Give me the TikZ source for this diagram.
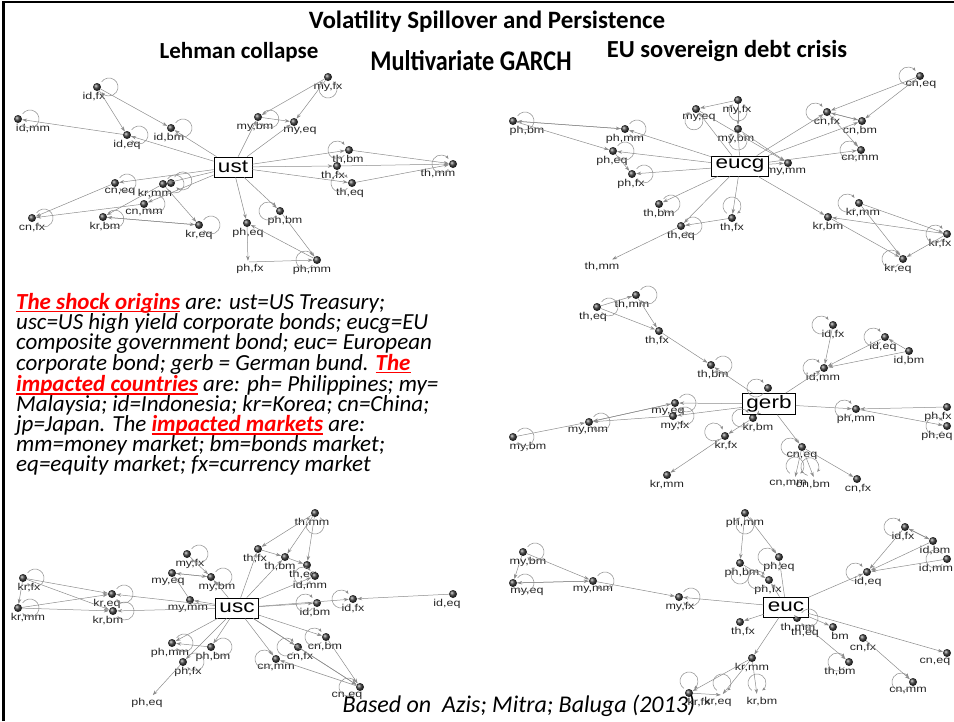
\documentclass[tikz,border=0pt]{standalone}
\usepackage{fontspec}
\setmainfont{Carlito}
\newfontfamily\netfont[FakeStretch=1.25]{Liberation Sans}
\newfontfamily\garchfont[FakeStretch=0.85]{Carlito}
\usetikzlibrary{arrows.meta}

% red, bold, underlined key words of the legend
\newcommand\redul[1]{\textcolor{red}{\bfseries\setbox0\hbox{#1}\rlap{\rule[-3pt]{\wd0}{1.6pt}}\box0}}
% self loop of a market node: node, direction
\newcommand\lp[2]{\draw[loopline] (#1) ++(#2:12) ++(#2+215:9) arc[start angle=#2+215, delta angle=290, radius=9];}

\tikzset{
  ball/.style={circle, inner sep=0pt, minimum size=8pt, shading=ball, ball color=black!75},
  nob/.style={circle, inner sep=0pt, minimum size=2pt},
  lbl/.style={font=\netfont\fontsize{10}{10}\selectfont, inner sep=0.5pt, text=black!85},
  src/.style={draw, thick, fill=white, font=\netfont\fontsize{18}{18}\selectfont, inner xsep=4pt, inner ysep=2pt, minimum height=20pt},
  link/.style={draw=black!45, line width=0.5pt, -{Stealth[length=5pt,width=3.5pt]}},
  loopline/.style={draw=black!45, line width=0.5pt, -{Stealth[length=3.5pt,width=3pt]}},
}

\begin{document}
\begin{tikzpicture}[x=1pt, y=-1pt]
\useasboundingbox (0,0) rectangle (954,721);
\draw[line width=2.5pt] (3.5,721) -- (3.5,2) -- (954,2);

\node[font=\bfseries\fontsize{25}{25}\selectfont] (title) at (487,22) {Volatility Spillover and Persistence};
\node[font=\bfseries\fontsize{23}{23}\selectfont] (lehman) at (239,52) {Lehman collapse};
\node[font=\garchfont\bfseries\fontsize{28.5}{28.5}\selectfont] (garch) at (471,61) {Multivariate GARCH};
\node[font=\bfseries\fontsize{24.5}{24.5}\selectfont] (eucrisis) at (727,51) {EU sovereign debt crisis};

% ---- ust (Lehman collapse)
\foreach \n/\x/\y/\t/\d in {idfx/97/87/{id,fx}/-3, idmm/18/119/{id,mm}/15, ideq/127/135/{id,eq}/0,
  idbm/171/128/{id,bm}/-2, cneq/115/183/{cn,eq}/5, krmm/163/184/{kr,mm}/-8, cnmm/144/204/{cn,mm}/0,
  cnfx/32/218/{cn,fx}/0, krbm/103/217/{kr,bm}/2, kreq/199/225/{kr,eq}/0, myfx/328/77/{my,fx}/0,
  mybm/258/117/{my,bm}/-3, myeq/294/122/{my,eq}/6, thbm/349/150/{th,bm}/-1, thfx/337/166/{th,fx}/-4,
  theq/352/183/{th,eq}/-2, thmm/453/164/{th,mm}/-15, phbm/280/211/{ph,bm}/5, pheq/247/223/{ph,eq}/1,
  phmm/317/260/{ph,mm}/-5}
  \node[ball, label={[lbl, xshift=\d]below:\t}] (a\n) at (\x,\y) {};
\node[ball] (akrx) at (171,183) {};
\node[nob, label={[lbl, xshift=2]below:ph,fx}] (aphfx) at (248,262) {};
\node[src] (aust) at (233,167) {ust};
\foreach \n/\a in {idfx/0, idmm/0, ideq/0, idbm/0, cneq/0, krmm/0, krx/-10, cnmm/0, cnfx/0, krbm/10,
  kreq/0, myfx/90, mybm/10, thbm/180, theq/180, thmm/180, phbm/180, phmm/180}
  {\lp{a\n}{\a}}
\foreach \s/\e in {ust/ideq, ust/idbm, ideq/idmm, idfx/ideq, idfx/idbm, ust/cneq, ust/krmm, ust/cnmm,
  cneq/cnfx, cnmm/cnfx, krmm/krbm, krmm/kreq, krbm/kreq, kreq/krbm, ust/mybm, ust/myeq, myfx/mybm,
  myfx/myeq, mybm/myeq, ust/thbm, ust/thfx, ust/theq, thbm/thmm, thfx/thmm, theq/thmm, ust/pheq,
  ust/phbm, phbm/phmm, phmm/pheq, pheq/phfx, phfx/phmm}
  \draw[link] (a\s) -- (a\e);

% ---- eucg (EU sovereign debt crisis)
\foreach \n/\x/\y/\t/\d in {phbm/513/121/{ph,bm}/14, phmm/625/129/{ph,mm}/0, pheq/613/151/{ph,eq}/-1,
  phfx/632/174/{ph,fx}/-1, myeq/696/109/{my,eq}/3, myfx/738/100/{my,fx}/-1, mybm/738/129/{my,bm}/-2,
  mymm/788/163/{my,mm}/-2, thbm/659/204/{th,bm}/0, theq/681/226/{th,eq}/0, thfx/732/218/{th,fx}/0,
  cneq/920/76/{cn,eq}/1, cnfx/827/112/{cn,fx}/0, cnbm/862/121/{cn,bm}/-2, cnmm/861/150/{cn,mm}/-1,
  krmm/859/203/{kr,mm}/4, krbm/828/217/{kr,bm}/0, krfx/947/234/{kr,fx}/-7, kreq/903/259/{kr,eq}/-5}
  \node[ball, label={[lbl, xshift=\d]below:\t}] (b\n) at (\x,\y) {};
\node[nob, label={[lbl, xshift=-9]below:th,mm}] (bthmm) at (611,260) {};
\node[src] (beucg) at (740,166) {eucg};
\foreach \n/\a in {phbm/0, phmm/0, pheq/0, phfx/0, myeq/100, myfx/90, mybm/90, thbm/0, theq/0,
  thfx/-90, cneq/180, cnfx/180, cnmm/180, krmm/180, krfx/180, kreq/180}
  {\lp{b\n}{\a}}
\foreach \s/\e in {phbm/phmm, phmm/phbm, phbm/pheq, eucg/phmm, eucg/pheq, eucg/phfx, pheq/phfx,
  eucg/myeq, myfx/myeq, myfx/mybm, myeq/mymm, mybm/mymm, eucg/mybm, eucg/mymm, eucg/thfx, eucg/thbm,
  eucg/theq, theq/thmm, thfx/theq, eucg/cnfx, eucg/cnbm, eucg/cnmm, cneq/cnfx, cneq/cnbm, cnfx/cnbm,
  cnbm/cnfx, cnfx/cnmm, eucg/krbm, krmm/krfx, krfx/krbm, krmm/kreq, krfx/kreq, krbm/kreq}
  \draw[link] (b\s) -- (b\e);

% ---- gerb
\foreach \n/\x/\y/\t/\d in {theq/597/307/{th,eq}/-4, thmm/636/295/{th,mm}/-4, thfx/659/331/{th,fx}/-2,
  thbm/711/365/{th,bm}/2, myeq/675/403/{my,eq}/-7, myfx/673/416/{my,fx}/2, mymm/589/422/{my,mm}/-1,
  mybm/513/437/{my,bm}/15, krmm/667/475/{kr,mm}/0, idfx/833/325/{id,fx}/0, ideq/885/337/{id,eq}/-2,
  idbm/909/351/{id,bm}/0, idmm/824/368/{id,mm}/-1, phmm/856/409/{ph,mm}/0, phfx/947/407/{ph,fx}/-9,
  pheq/947/426/{ph,eq}/-10, krbm/753/418/{kr,bm}/5, krfx/725/436/{kr,fx}/1, cneq/802/447/{cn,eq}/0,
  cnfx/857/479/{cn,fx}/1}
  \node[ball, label={[lbl, xshift=\d]below:\t}] (c\n) at (\x,\y) {};
\node[ball] (cx) at (768,388) {};
\node[nob, label={[lbl, xshift=-7]below:cn,mm}] (ccnmm) at (795,478) {};
\node[nob, label={[lbl, xshift=-1]below:cn,bm}] (ccnbm) at (814,478) {};
\node[src] (cgerb) at (769,404) {gerb};
\foreach \n/\a in {theq/0, thmm/0, thbm/0, myeq/0, myfx/0, mymm/0, mybm/0, x/180, idfx/180, ideq/180,
  idmm/180, phmm/180, pheq/180, krbm/180, krfx/-160, cneq/180, cnmm/-90, cnbm/-110}
  {\lp{c\n}{\a}}
\foreach \s/\e in {gerb/thbm, thfx/thbm, theq/thmm, theq/thfx, thmm/thfx, gerb/myeq, gerb/myfx,
  myeq/mymm, myfx/mymm, mybm/mymm, mymm/myeq, gerb/idmm, idfx/idmm, ideq/idmm, idbm/idmm, idbm/ideq,
  gerb/phmm, phfx/phmm, phmm/pheq, gerb/krbm, krbm/krfx, krfx/krmm, gerb/cneq, cneq/cnmm, cneq/cnbm,
  cneq/cnfx}
  \draw[link] (c\s) -- (c\e);

% ---- usc (Lehman collapse)
\foreach \n/\x/\y/\t/\d in {krfx/23/578/{kr,fx}/6, krmm/18/608/{kr,mm}/10, kreq/112/594/{kr,eq}/-5,
  krbm/113/611/{kr,bm}/-5, myfx/187/554/{my,fx}/3, myeq/172/573/{my,eq}/-4, mybm/211/577/{my,bm}/6,
  mymm/190/600/{my,mm}/-2, phmm/172/643/{ph,mm}/-2, phbm/211/647/{ph,bm}/2, phfx/183/662/{ph,fx}/5,
  thmm/315/513/{th,mm}/-3, thfx/258/549/{th,fx}/-3, thbm/285/557/{th,bm}/-5, theq/307/565/{th,eq}/-4,
  idmm/315/576/{id,mm}/-5, idbm/317/603/{id,bm}/-2, idfx/353/599/{id,fx}/0, ideq/453/594/{id,eq}/-6,
  cnbm/326/637/{cn,bm}/-1, cnfx/298/647/{cn,fx}/2, cnmm/276/659/{cn,mm}/0, cneq/360/687/{cn,eq}/-13}
  \node[ball, label={[lbl, xshift=\d]below:\t}] (d\n) at (\x,\y) {};
\node[nob, label={[lbl, xshift=-5]below:ph,eq}] (dpheq) at (152,696) {};
\node[src] (dusc) at (237,608) {usc};
\foreach \n/\a in {krfx/0, krmm/0, kreq/0, krbm/0, myfx/0, mybm/0, phmm/0, phbm/0, phfx/0, thmm/90,
  idmm/180, idbm/180, idfx/180, cnbm/180, cnfx/180, cnmm/180, cneq/180}
  {\lp{d\n}{\a}}
\foreach \s/\e in {krfx/krmm, krfx/kreq, krfx/krbm, krmm/kreq, krmm/krbm, usc/kreq, usc/krbm,
  usc/mymm, usc/mybm, mymm/myeq, myfx/mybm, myeq/mybm, mybm/myeq, usc/phmm, usc/phbm, usc/phfx,
  phbm/phmm, phfx/pheq, usc/cnmm, usc/thfx, usc/thbm, thmm/thfx, thmm/thbm, thmm/theq, thfx/thbm,
  thbm/theq, usc/idmm, usc/idbm, usc/idfx, ideq/idfx, usc/cnbm, usc/cnfx, usc/cneq, cnbm/cneq,
  cnfx/cneq, cneq/cnmm}
  \draw[link] (d\s) -- (d\e);

% ---- euc (EU sovereign debt crisis)
\foreach \n/\x/\y/\t/\d in {mybm/523/552/{my,bm}/5, myeq/513/583/{my,eq}/14, mymm/593/581/{my,mm}/0,
  myfx/679/597/{my,fx}/1, phmm/745/513/{ph,mm}/0, phbm/740/563/{ph,bm}/2, pheq/779/557/{ph,eq}/0,
  phfx/769/580/{ph,fx}/-1, idfx/905/527/{id,fx}/-2, idbm/933/541/{id,bm}/2, idmm/947/559/{id,mm}/-11,
  ideq/867/572/{id,eq}/1, thfx/740/622/{th,fx}/3, thmm/797/618/{th,mm}/1, cnbm/833/627/{bm}/7,
  cnfx/863/638/{cn,fx}/0, cneq/947/653/{cn,eq}/-12, thbm/849/662/{th,bm}/-9, cnmm/913/682/{cn,mm}/-5,
  krmm/752/658/{kr,mm}/0, krfx/689/693/{kr,fx}/10}
  \node[ball, label={[lbl, xshift=\d]below:\t}] (e\n) at (\x,\y) {};
\node[nob, label={[lbl, xshift=-1]below:th,eq}] (etheq) at (806,626) {};
\node[nob, label={[lbl, xshift=-4]below:kr,eq}] (ekreq) at (722,695) {};
\node[nob, label={[lbl, xshift=5]below:kr,bm}] (ekrbm) at (757,695) {};
\node[src] (eeuc) at (786,607) {euc};
\foreach \n/\a in {mybm/0, myeq/0, mymm/0, myfx/0, phmm/90, phbm/90, pheq/180, phfx/180, idfx/180,
  idmm/180, ideq/180, thmm/0, thbm/180, cnmm/180, kreq/-90, krbm/-90, krfx/-90}
  {\lp{e\n}{\a}}
\foreach \s/\e in {mybm/myeq, mybm/mymm, mymm/myeq, myeq/mymm, mymm/myfx, euc/myfx, phmm/phbm,
  phmm/pheq, phbm/phfx, euc/pheq, euc/phfx, euc/ideq, idfx/ideq, idbm/ideq, idmm/ideq, idfx/idbm,
  idbm/idfx, euc/thfx, euc/thmm, euc/cnbm, euc/cneq, cnfx/cnmm, theq/thbm, euc/krmm, krmm/krfx,
  krmm/kreq, krmm/krbm, krfx/kreq}
  \draw[link] (e\s) -- (e\e);

% legend and source
\node[anchor=north west, align=left, inner sep=0pt, font=\itshape\fontsize{23}{20}\selectfont] (legend) at (16,293) {%
\redul{The shock origins} are: ust=US Treasury;\\
usc=US high yield corporate bonds; eucg=EU\\
composite government bond; euc= European\\
corporate bond; gerb = German bund. \redul{The}\\
\redul{impacted countries} are: ph= Philippines; my=\\
Malaysia; id=Indonesia; kr=Korea; cn=China;\\
jp=Japan. The \redul{impacted markets} are:\\
mm=money market; bm=bonds market;\\
eq=equity market; fx=currency market};
\node[font=\itshape\fontsize{24}{24}\selectfont] (source) at (519,706) {Based on\ \ Azis; Mitra; Baluga (2013)};
\end{tikzpicture}
\end{document}
